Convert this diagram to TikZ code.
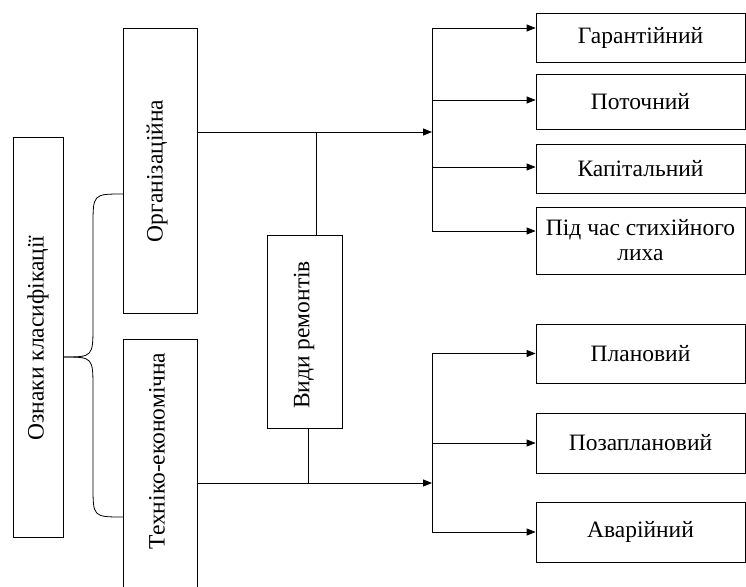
\documentclass[tikz,border=0pt]{standalone}
\usepackage{fontspec}
\setmainfont{Liberation Serif}
\usetikzlibrary{arrows.meta}

\begin{document}
\begin{tikzpicture}[x=1pt,y=-1pt,
    box/.style={draw,line width=0.8pt,inner sep=0pt,font=\fontsize{23.5}{25}\selectfont,align=center},
    txt/.style={font=\fontsize{23.5}{25}\selectfont,rotate=90,inner sep=0pt},
    arr/.style={-{Triangle[length=9pt,width=7pt]},line width=0.8pt},
    ln/.style={line width=0.8pt}]
    \useasboundingbox (0,0) rectangle (746,586);

    % left column
    \node (klas) at (38,337) [box,minimum width=50pt,minimum height=400pt] {};
    \node (klastxt) at (38,338) [txt] {Ознаки класифікації};

    \node (org) at (160,170.5) [box,minimum width=74pt,minimum height=285pt] {};
    \node (orgtxt) at (157,171) [txt] {Організаційна};
    \node (tech) at (160,479.5) [box,minimum width=74pt,minimum height=281pt] {};
    \node (techtxt) at (157,451) [txt] {Техніко-економічна};

    \node (vyd) at (304.5,331.5) [box,minimum width=75pt,minimum height=193pt] {};
    \node (vydtxt) at (304,335) [txt] {Види ремонтів};

    % right column
    \node (gar) at (640.5,37.5) [box,minimum width=209pt,minimum height=49pt] {Гарантійний};
    \node (pot) at (640.5,101.5) [box,minimum width=209pt,minimum height=55pt] {Поточний};
    \node (kap) at (640.5,168.5) [box,minimum width=209pt,minimum height=49pt] {Капітальний};
    \node (styh) at (640.5,240.5) [box,minimum width=209pt,minimum height=67pt] {Під час стихійного\\лиха};

    \node (plan) at (640.5,353.5) [box,minimum width=209pt,minimum height=59pt] {Плановий};
    \node (pozp) at (640.5,443) [box,minimum width=209pt,minimum height=60pt] {Позаплановий};
    \node (avar) at (640.5,532) [box,minimum width=209pt,minimum height=60pt] {Аварійний};

    \coordinate (tip) at (63,357);
    \coordinate (orgin) at (123,194);
    \coordinate (techin) at (123,517);
    \coordinate (topin) at (432,132);
    \coordinate (botin) at (432,483);
    \coordinate (vtop) at (316,132);
    \coordinate (vbot) at (308,483);
    \coordinate (bus1) at (432,28);
    \coordinate (bus2) at (432,100);
    \coordinate (bus3) at (432,167);
    \coordinate (bus4) at (432,231);

    % brace
    \draw[ln] (orgin) .. controls (93,194) .. (93,226) -- (93,325) .. controls (93,357) .. (tip);
    \draw[ln] (tip) .. controls (93,357) .. (93,389) -- (93,485) .. controls (93,517) .. (techin);

    \draw[arr] (org.east |- topin) -- (topin);
    \draw[arr] (tech.east |- botin) -- (botin);
    \draw[ln] (vtop) -- (vtop |- vyd.north);
    \draw[ln] (vbot |- vyd.south) -- (vbot);

    \draw[ln] (bus1) -- (bus4);
    \draw[arr] (bus1) -- (bus1 -| gar.west);
    \draw[arr] (bus2) -- (bus2 -| pot.west);
    \draw[arr] (bus3) -- (bus3 -| kap.west);
    \draw[arr] (bus4) -- (bus4 -| styh.west);

    \draw[ln] (plan.west -| bus1) -- (avar.west -| bus1);
    \draw[arr] (plan.west -| bus1) -- (plan.west);
    \draw[arr] (pozp.west -| bus1) -- (pozp.west);
    \draw[arr] (avar.west -| bus1) -- (avar.west);

\end{tikzpicture}
\end{document}
